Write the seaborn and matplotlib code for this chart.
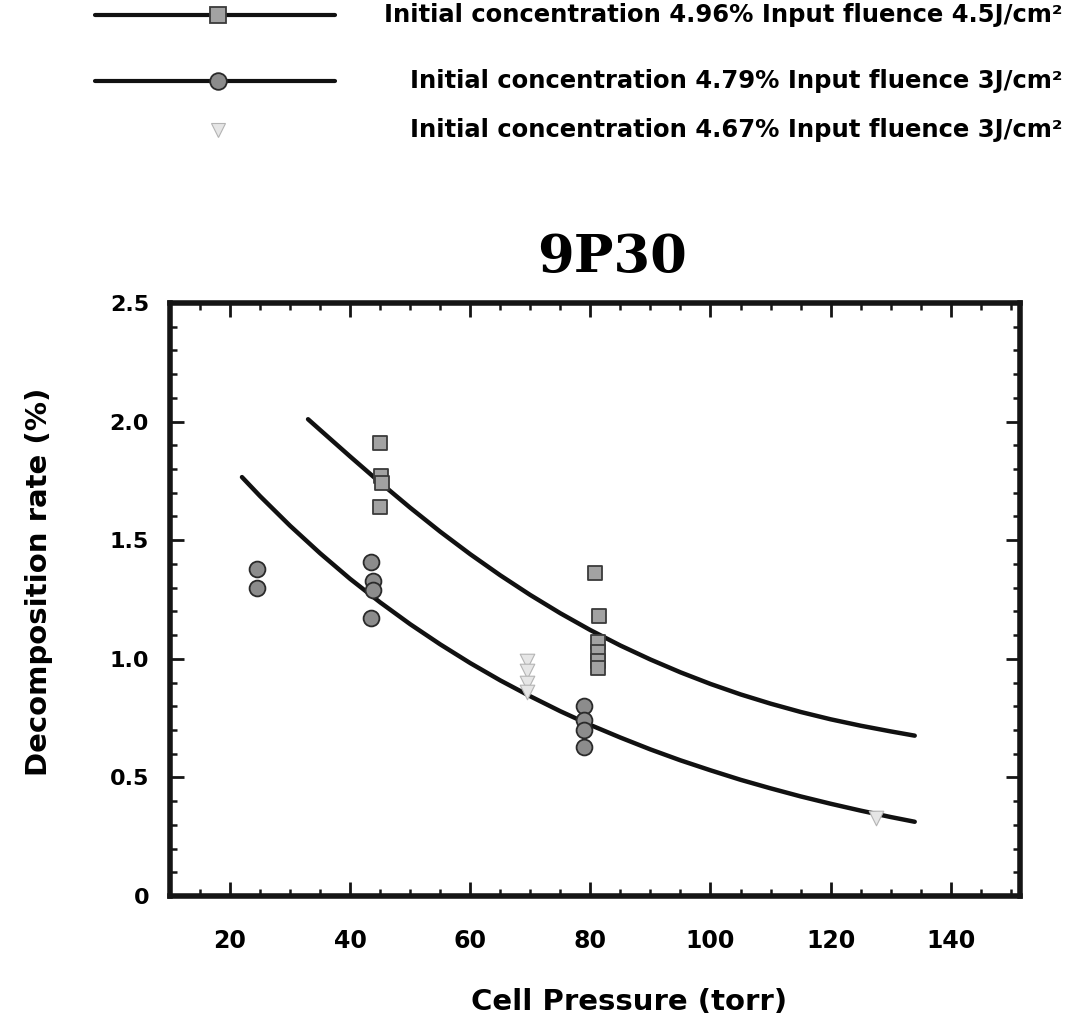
import numpy as np
import pandas as pd
import seaborn as sns
import matplotlib
matplotlib.use("Agg")
import matplotlib.pyplot as plt
from matplotlib.lines import Line2D
from matplotlib.ticker import MultipleLocator, FixedLocator, FixedFormatter

# ---- measured decomposition rates (%) vs cell pressure (torr) ----
sq_pressure = [45.0, 45.2, 45.3, 45.0, 80.8, 81.5, 81.3, 81.3, 81.3, 81.3]
sq_rate = [1.91, 1.77, 1.74, 1.64, 1.36, 1.18, 1.07, 1.03, 0.99, 0.96]

ci_pressure = [24.5, 24.5, 43.5, 43.8, 43.8, 43.5, 79.0, 79.0, 79.0, 79.0]
ci_rate = [1.38, 1.30, 1.41, 1.33, 1.29, 1.17, 0.80, 0.74, 0.70, 0.63]

tr_pressure = [69.5, 69.5, 69.5, 69.5, 127.5]
tr_rate = [0.99, 0.95, 0.90, 0.86, 0.33]

# ---- fitted decay curves ----
fit_hi_pressure = [33, 35, 40, 45, 50, 55, 60, 65, 70, 75, 80, 85, 90, 95, 100,
                   105, 110, 115, 120, 125, 130, 134]
fit_hi_rate = [2.01, 1.965, 1.853, 1.743, 1.637, 1.536, 1.441, 1.352, 1.269, 1.192,
               1.121, 1.056, 0.997, 0.943, 0.894, 0.850, 0.811, 0.776, 0.745, 0.718,
               0.694, 0.676]

fit_lo_pressure = [22, 25, 30, 35, 40, 45, 50, 55, 60, 65, 70, 75, 80, 85, 90, 95,
                   100, 105, 110, 115, 120, 125, 130, 134]
fit_lo_rate = [1.766, 1.686, 1.561, 1.445, 1.337, 1.238, 1.146, 1.061, 0.982, 0.909,
               0.842, 0.779, 0.721, 0.668, 0.618, 0.572, 0.530, 0.490, 0.454, 0.420,
               0.389, 0.360, 0.333, 0.313]

series_labels = [
    "Initial concentration 4.96% Input fluence 4.5J/cm\u00b2",
    "Initial concentration 4.79% Input fluence 3J/cm\u00b2",
    "Initial concentration 4.67% Input fluence 3J/cm\u00b2",
]

x_ticks = [20, 40, 60, 80, 100, 120, 140]
y_ticks = [0, 0.5, 1.0, 1.5, 2.0, 2.5]
y_tick_labels = ["0", "0.5", "1.0", "1.5", "2.0", "2.5"]

# ---- styling ----
sns.set_style("ticks")
plt.rcParams["font.family"] = ["DejaVu Sans"]
plt.rcParams["font.weight"] = "bold"
plt.rcParams["text.color"] = "black"
plt.rcParams["axes.labelcolor"] = "black"
plt.rcParams["xtick.color"] = "black"
plt.rcParams["ytick.color"] = "black"

fig = plt.figure(figsize=(10.89, 10.33), dpi=100)
ax = fig.add_axes([0.156, 0.1326, 0.7805, 0.5741])

frame_color = "#151515"
curve_color = "#111111"

# fitted curves
sns.lineplot(x=fit_hi_pressure, y=fit_hi_rate, ax=ax, color=curve_color,
             lw=3.2, sort=False, estimator=None, zorder=2)
sns.lineplot(x=fit_lo_pressure, y=fit_lo_rate, ax=ax, color=curve_color,
             lw=3.2, sort=False, estimator=None, zorder=2)

# measured points
sns.scatterplot(x=tr_pressure, y=tr_rate, ax=ax, marker="v", s=110,
                color="#e6e6e6", edgecolor="#b4b4b4", linewidth=0.8, zorder=3)
sns.scatterplot(x=sq_pressure, y=sq_rate, ax=ax, marker="s", s=110,
                color="#a2a2a2", edgecolor="#3a3a3a", linewidth=1.3, zorder=4)
sns.scatterplot(x=ci_pressure, y=ci_rate, ax=ax, marker="o", s=130,
                color="#8c8c8c", edgecolor="#2a2a2a", linewidth=1.3, zorder=4)

ax.set_xlim(10, 151.5)
ax.set_ylim(0, 2.5)

ax.xaxis.set_major_locator(FixedLocator(x_ticks))
ax.xaxis.set_minor_locator(MultipleLocator(5))
ax.yaxis.set_major_locator(FixedLocator(y_ticks))
ax.yaxis.set_major_formatter(FixedFormatter(y_tick_labels))
ax.yaxis.set_minor_locator(MultipleLocator(0.1))

ax.tick_params(which="both", direction="in", top=True, right=True,
               color=frame_color, labelcolor="black")
ax.tick_params(axis="x", which="major", labelsize=17, pad=24)
ax.tick_params(axis="y", which="major", labelsize=16, pad=15)
ax.tick_params(which="major", length=10, width=2)
ax.tick_params(which="minor", length=5, width=1.8)
for lab in ax.get_xticklabels() + ax.get_yticklabels():
    lab.set_fontweight("bold")

for side in ["left", "right", "top", "bottom"]:
    ax.spines[side].set_visible(True)
    ax.spines[side].set_linewidth(4)
    ax.spines[side].set_color(frame_color)

ax.set_xlabel("Cell Pressure (torr)", fontsize=21, fontweight="bold")
ax.xaxis.set_label_coords(0.54, -0.155)
ax.set_ylabel("Decomposition rate (%)", fontsize=21, fontweight="bold")
ax.yaxis.set_label_coords(-0.138, 0.53)
ax.set_title("9P30", fontsize=38, fontweight="bold", family="DejaVu Serif",
             pad=22, x=0.52, color="black")

# ---- legend block above the plot ----
row_y = [1 - 15 / 1033, 1 - 81 / 1033, 1 - 130 / 1033]
line_x0, line_x1, mark_x = 95 / 1089, 335 / 1089, 218 / 1089
text_x = 1063 / 1089

fig.add_artist(Line2D([line_x0, line_x1], [row_y[0]] * 2, transform=fig.transFigure,
                      color=curve_color, lw=3))
fig.add_artist(Line2D([mark_x], [row_y[0]], transform=fig.transFigure, marker="s",
                      markersize=11, markerfacecolor="#a2a2a2", markeredgecolor="#3a3a3a",
                      markeredgewidth=1.3, linestyle="none"))
fig.add_artist(Line2D([line_x0, line_x1], [row_y[1]] * 2, transform=fig.transFigure,
                      color=curve_color, lw=3))
fig.add_artist(Line2D([mark_x], [row_y[1]], transform=fig.transFigure, marker="o",
                      markersize=12, markerfacecolor="#8c8c8c", markeredgecolor="#2a2a2a",
                      markeredgewidth=1.3, linestyle="none"))
fig.add_artist(Line2D([mark_x], [row_y[2]], transform=fig.transFigure, marker="v",
                      markersize=10, markerfacecolor="#e6e6e6", markeredgecolor="#b4b4b4",
                      markeredgewidth=0.8, linestyle="none"))

for y, lab in zip(row_y, series_labels):
    fig.text(text_x, y, lab, ha="right", va="center", fontsize=17.5,
             fontweight="bold", color="black")

fig.savefig("out.png", dpi=100, facecolor="white")
